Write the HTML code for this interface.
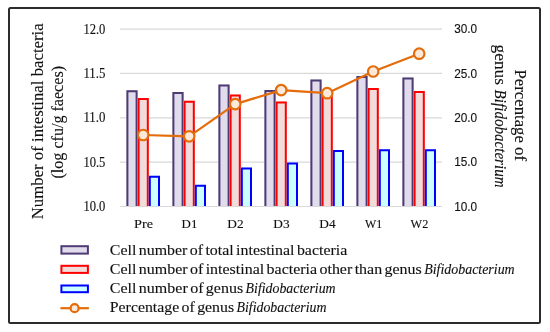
<!DOCTYPE html><html><head><meta charset="utf-8"><style>html,body{margin:0;padding:0;background:#fff;width:550px;height:332px;overflow:hidden}svg{display:block;will-change:transform}</style></head><body>
<svg width="550" height="332" viewBox="0 0 550 332">
<rect x="0" y="0" width="550" height="332" fill="#fff"/>
<g id="chart">
<line x1="120" y1="29.1" x2="442" y2="29.1" stroke="#d9d9d9" stroke-width="1.2"/>
<line x1="120" y1="73.45" x2="442" y2="73.45" stroke="#d9d9d9" stroke-width="1.2"/>
<line x1="120" y1="117.8" x2="442" y2="117.8" stroke="#d9d9d9" stroke-width="1.2"/>
<line x1="120" y1="162.15" x2="442" y2="162.15" stroke="#d9d9d9" stroke-width="1.2"/>
<rect x="126.40" y="90.20" width="11.20" height="115.80" fill="#e1dcec"/>
<path d="M127.40,206.0 V91.20 H136.60 V206.0" fill="none" stroke="#4e3b76" stroke-width="2"/>
<rect x="172.40" y="92.00" width="11.20" height="114.00" fill="#e1dcec"/>
<path d="M173.40,206.0 V93.00 H182.60 V206.0" fill="none" stroke="#4e3b76" stroke-width="2"/>
<rect x="218.40" y="84.40" width="11.20" height="121.60" fill="#e1dcec"/>
<path d="M219.40,206.0 V85.40 H228.60 V206.0" fill="none" stroke="#4e3b76" stroke-width="2"/>
<rect x="264.40" y="90.10" width="11.20" height="115.90" fill="#e1dcec"/>
<path d="M265.40,206.0 V91.10 H274.60 V206.0" fill="none" stroke="#4e3b76" stroke-width="2"/>
<rect x="310.40" y="79.40" width="11.20" height="126.60" fill="#e1dcec"/>
<path d="M311.40,206.0 V80.40 H320.60 V206.0" fill="none" stroke="#4e3b76" stroke-width="2"/>
<rect x="356.40" y="76.10" width="11.20" height="129.90" fill="#e1dcec"/>
<path d="M357.40,206.0 V77.10 H366.60 V206.0" fill="none" stroke="#4e3b76" stroke-width="2"/>
<rect x="402.40" y="77.40" width="11.20" height="128.60" fill="#e1dcec"/>
<path d="M403.40,206.0 V78.40 H412.60 V206.0" fill="none" stroke="#4e3b76" stroke-width="2"/>
<rect x="137.60" y="98.00" width="11.20" height="108.00" fill="#f2dcdb"/>
<path d="M138.60,206.0 V99.00 H147.80 V206.0" fill="none" stroke="#ff0000" stroke-width="2"/>
<rect x="183.60" y="100.70" width="11.20" height="105.30" fill="#f2dcdb"/>
<path d="M184.60,206.0 V101.70 H193.80 V206.0" fill="none" stroke="#ff0000" stroke-width="2"/>
<rect x="229.60" y="94.50" width="11.20" height="111.50" fill="#f2dcdb"/>
<path d="M230.60,206.0 V95.50 H239.80 V206.0" fill="none" stroke="#ff0000" stroke-width="2"/>
<rect x="275.60" y="101.50" width="11.20" height="104.50" fill="#f2dcdb"/>
<path d="M276.60,206.0 V102.50 H285.80 V206.0" fill="none" stroke="#ff0000" stroke-width="2"/>
<rect x="321.60" y="94.50" width="11.20" height="111.50" fill="#f2dcdb"/>
<path d="M322.60,206.0 V95.50 H331.80 V206.0" fill="none" stroke="#ff0000" stroke-width="2"/>
<rect x="367.60" y="88.10" width="11.20" height="117.90" fill="#f2dcdb"/>
<path d="M368.60,206.0 V89.10 H377.80 V206.0" fill="none" stroke="#ff0000" stroke-width="2"/>
<rect x="413.60" y="90.90" width="11.20" height="115.10" fill="#f2dcdb"/>
<path d="M414.60,206.0 V91.90 H423.80 V206.0" fill="none" stroke="#ff0000" stroke-width="2"/>
<rect x="148.80" y="175.70" width="11.20" height="30.30" fill="#ccffff"/>
<path d="M149.80,206.0 V176.70 H159.00 V206.0" fill="none" stroke="#0000ff" stroke-width="2"/>
<rect x="194.80" y="184.80" width="11.20" height="21.20" fill="#ccffff"/>
<path d="M195.80,206.0 V185.80 H205.00 V206.0" fill="none" stroke="#0000ff" stroke-width="2"/>
<rect x="240.80" y="167.40" width="11.20" height="38.60" fill="#ccffff"/>
<path d="M241.80,206.0 V168.40 H251.00 V206.0" fill="none" stroke="#0000ff" stroke-width="2"/>
<rect x="286.80" y="162.50" width="11.20" height="43.50" fill="#ccffff"/>
<path d="M287.80,206.0 V163.50 H297.00 V206.0" fill="none" stroke="#0000ff" stroke-width="2"/>
<rect x="332.80" y="150.10" width="11.20" height="55.90" fill="#ccffff"/>
<path d="M333.80,206.0 V151.10 H343.00 V206.0" fill="none" stroke="#0000ff" stroke-width="2"/>
<rect x="378.80" y="149.30" width="11.20" height="56.70" fill="#ccffff"/>
<path d="M379.80,206.0 V150.30 H389.00 V206.0" fill="none" stroke="#0000ff" stroke-width="2"/>
<rect x="424.80" y="149.30" width="11.20" height="56.70" fill="#ccffff"/>
<path d="M425.80,206.0 V150.30 H435.00 V206.0" fill="none" stroke="#0000ff" stroke-width="2"/>
<line x1="120" y1="206.5" x2="442" y2="206.5" stroke="#d9d9d9" stroke-width="1"/>
<polyline points="143.20,135.0 189.20,136.3 235.20,104.1 281.20,90.1 327.20,93.2 373.20,71.5 419.20,53.7" fill="none" stroke="#e46c0a" stroke-width="2.2" stroke-linejoin="round"/>
<circle cx="143.20" cy="135.0" r="5.25" fill="#fde9d9" stroke="#e46c0a" stroke-width="2.2"/>
<circle cx="189.20" cy="136.3" r="5.25" fill="#fde9d9" stroke="#e46c0a" stroke-width="2.2"/>
<circle cx="235.20" cy="104.1" r="5.25" fill="#fde9d9" stroke="#e46c0a" stroke-width="2.2"/>
<circle cx="281.20" cy="90.1" r="5.25" fill="#fde9d9" stroke="#e46c0a" stroke-width="2.2"/>
<circle cx="327.20" cy="93.2" r="5.25" fill="#fde9d9" stroke="#e46c0a" stroke-width="2.2"/>
<circle cx="373.20" cy="71.5" r="5.25" fill="#fde9d9" stroke="#e46c0a" stroke-width="2.2"/>
<circle cx="419.20" cy="53.7" r="5.25" fill="#fde9d9" stroke="#e46c0a" stroke-width="2.2"/>
<rect x="61.4" y="246.2" width="26.50" height="7.40" fill="#e1dcec" stroke="#4e3b76" stroke-width="2"/>
<rect x="61.4" y="265.8" width="26.50" height="7.10" fill="#f2dcdb" stroke="#ff0000" stroke-width="2"/>
<rect x="61.4" y="285.5" width="26.50" height="6.70" fill="#ccffff" stroke="#0000ff" stroke-width="2"/>
<line x1="60.4" y1="308.2" x2="88.9" y2="308.2" stroke="#e46c0a" stroke-width="2.2"/>
<circle cx="74.6" cy="308.2" r="4" fill="#fde9d9" stroke="#e46c0a" stroke-width="2.2"/>
<rect x="9" y="8" width="531" height="315" rx="1.5" fill="none" stroke="#2c2c2c" stroke-width="2"/>
</g>
<text id="ltick0" x="105.4" y="33.6" font-family="Liberation Serif" font-size="13.6" fill="#111111" text-anchor="end" textLength="22.0" lengthAdjust="spacingAndGlyphs" stroke="#111111" stroke-width="0.12">12.0</text>
<text id="ltick1" x="105.4" y="77.95" font-family="Liberation Serif" font-size="13.6" fill="#111111" text-anchor="end" textLength="22.0" lengthAdjust="spacingAndGlyphs" stroke="#111111" stroke-width="0.12">11.5</text>
<text id="ltick2" x="105.4" y="122.3" font-family="Liberation Serif" font-size="13.6" fill="#111111" text-anchor="end" textLength="22.0" lengthAdjust="spacingAndGlyphs" stroke="#111111" stroke-width="0.12">11.0</text>
<text id="ltick3" x="105.4" y="166.65" font-family="Liberation Serif" font-size="13.6" fill="#111111" text-anchor="end" textLength="22.0" lengthAdjust="spacingAndGlyphs" stroke="#111111" stroke-width="0.12">10.5</text>
<text id="ltick4" x="105.4" y="211.0" font-family="Liberation Serif" font-size="13.6" fill="#111111" text-anchor="end" textLength="22.0" lengthAdjust="spacingAndGlyphs" stroke="#111111" stroke-width="0.12">10.0</text>
<text id="rtick0" x="454.2" y="33.4" font-family="Liberation Sans" font-size="13.2" fill="#111111" textLength="23.0" lengthAdjust="spacingAndGlyphs" stroke="#111111" stroke-width="0.12">30.0</text>
<text id="rtick1" x="454.2" y="77.75" font-family="Liberation Sans" font-size="13.2" fill="#111111" textLength="23.0" lengthAdjust="spacingAndGlyphs" stroke="#111111" stroke-width="0.12">25.0</text>
<text id="rtick2" x="454.2" y="122.1" font-family="Liberation Sans" font-size="13.2" fill="#111111" textLength="23.0" lengthAdjust="spacingAndGlyphs" stroke="#111111" stroke-width="0.12">20.0</text>
<text id="rtick3" x="454.2" y="166.45" font-family="Liberation Sans" font-size="13.2" fill="#111111" textLength="23.0" lengthAdjust="spacingAndGlyphs" stroke="#111111" stroke-width="0.12">15.0</text>
<text id="rtick4" x="454.2" y="210.8" font-family="Liberation Sans" font-size="13.2" fill="#111111" textLength="23.0" lengthAdjust="spacingAndGlyphs" stroke="#111111" stroke-width="0.12">10.0</text>
<text id="xl0" x="143.5" y="228.2" font-family="Liberation Serif" font-size="12.7" fill="#111111" text-anchor="middle" textLength="19.0" lengthAdjust="spacingAndGlyphs" stroke="#111111" stroke-width="0.12">Pre</text>
<text id="xl1" x="189.5" y="228.2" font-family="Liberation Serif" font-size="12.7" fill="#111111" text-anchor="middle" textLength="15.8" lengthAdjust="spacingAndGlyphs" stroke="#111111" stroke-width="0.12">D1</text>
<text id="xl2" x="235.5" y="228.2" font-family="Liberation Serif" font-size="12.7" fill="#111111" text-anchor="middle" textLength="16.3" lengthAdjust="spacingAndGlyphs" stroke="#111111" stroke-width="0.12">D2</text>
<text id="xl3" x="281.5" y="228.2" font-family="Liberation Serif" font-size="12.7" fill="#111111" text-anchor="middle" textLength="16.3" lengthAdjust="spacingAndGlyphs" stroke="#111111" stroke-width="0.12">D3</text>
<text id="xl4" x="327.5" y="228.2" font-family="Liberation Serif" font-size="12.7" fill="#111111" text-anchor="middle" textLength="16.3" lengthAdjust="spacingAndGlyphs" stroke="#111111" stroke-width="0.12">D4</text>
<text id="xl5" x="373.5" y="228.2" font-family="Liberation Serif" font-size="12.7" fill="#111111" text-anchor="middle" textLength="17.2" lengthAdjust="spacingAndGlyphs" stroke="#111111" stroke-width="0.12">W1</text>
<text id="xl6" x="419.5" y="228.2" font-family="Liberation Serif" font-size="12.7" fill="#111111" text-anchor="middle" textLength="17.8" lengthAdjust="spacingAndGlyphs" stroke="#111111" stroke-width="0.12">W2</text>
<text id="lt1" transform="translate(42.9,219.3) rotate(-90)" x="0" y="0" font-family="Liberation Serif" font-size="17" fill="#111111" textLength="196" lengthAdjust="spacingAndGlyphs" stroke="#111111" stroke-width="0.12">Number of intestinal bacteria</text>
<text id="lt2" transform="translate(63.1,178.5) rotate(-90)" x="0" y="0" font-family="Liberation Serif" font-size="17" fill="#111111" textLength="112.5" lengthAdjust="spacingAndGlyphs" stroke="#111111" stroke-width="0.12">(log cfu/g faeces)</text>
<text id="rt1" transform="translate(515.3,69.5) rotate(90)" x="0" y="0" font-family="Liberation Serif" font-size="16" fill="#111111" textLength="91.5" lengthAdjust="spacingAndGlyphs" stroke="#111111" stroke-width="0.12">Percentage of</text>
<text id="rt2a" transform="translate(494.6,44.5) rotate(90)" x="0" y="0" font-family="Liberation Serif" font-size="16" fill="#111111" textLength="40.5" lengthAdjust="spacingAndGlyphs" stroke="#111111" stroke-width="0.12">genus</text>
<text id="rt2b" transform="translate(494.6,89.6) rotate(90)" x="0" y="0" font-family="Liberation Serif" font-size="16" fill="#111111" font-style="italic" textLength="98" lengthAdjust="spacingAndGlyphs" stroke="#111111" stroke-width="0.12">Bifidobacterium</text>
<text id="leg0r" x="109.8" y="254.9" font-family="Liberation Serif" font-size="15" fill="#111111" textLength="237.5" lengthAdjust="spacingAndGlyphs" word-spacing="-1.5" stroke="#111111" stroke-width="0.12">Cell number of total intestinal bacteria</text>
<text id="leg1r" x="109.8" y="273.9" font-family="Liberation Serif" font-size="15" fill="#111111" textLength="312" lengthAdjust="spacingAndGlyphs" word-spacing="-1.5" stroke="#111111" stroke-width="0.12">Cell number of intestinal bacteria other than genus</text>
<text id="leg1i" x="424.2" y="273.9" font-family="Liberation Serif" font-size="15" fill="#111111" font-style="italic" textLength="90.5" lengthAdjust="spacingAndGlyphs" stroke="#111111" stroke-width="0.12">Bifidobacterium</text>
<text id="leg2r" x="109.8" y="292.8" font-family="Liberation Serif" font-size="15" fill="#111111" textLength="133.4" lengthAdjust="spacingAndGlyphs" word-spacing="-1.5" stroke="#111111" stroke-width="0.12">Cell number of genus</text>
<text id="leg2i" x="245.6" y="292.8" font-family="Liberation Serif" font-size="15" fill="#111111" font-style="italic" textLength="90" lengthAdjust="spacingAndGlyphs" stroke="#111111" stroke-width="0.12">Bifidobacterium</text>
<text id="leg3r" x="109.8" y="311.6" font-family="Liberation Serif" font-size="15" fill="#111111" textLength="124.3" lengthAdjust="spacingAndGlyphs" word-spacing="-1.5" stroke="#111111" stroke-width="0.12">Percentage of genus</text>
<text id="leg3i" x="236.5" y="311.6" font-family="Liberation Serif" font-size="15" fill="#111111" font-style="italic" textLength="90" lengthAdjust="spacingAndGlyphs" stroke="#111111" stroke-width="0.12">Bifidobacterium</text>
</svg></body></html>
